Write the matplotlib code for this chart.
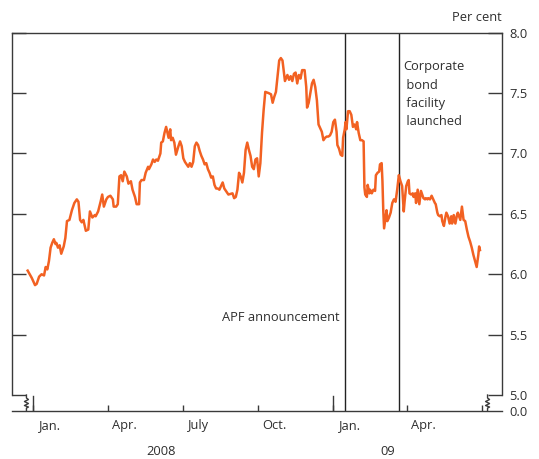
import numpy as np
import pandas as pd
import matplotlib
matplotlib.use('Agg')
import matplotlib.pyplot as plt
import matplotlib.dates as mdates

plt.rcParams['font.family'] = ['Open Sans', 'DejaVu Sans']

# ---------------- data ----------------
BASE = '2008-01-01'
day_offsets = [
    -7, -2, 2, 4, 7, 10, 13, 15, 17, 19, 21, 23, 25, 27, 28, 30, 32, 34, 37, 39,
    41, 44, 47, 50, 53, 55, 57, 59, 61, 64, 67, 69, 72, 75, 76, 79, 82, 84, 86, 89,
    91, 94, 97, 98, 101, 103, 105, 107, 109, 111, 114, 116, 119, 121, 124, 126, 129, 130, 132, 135,
    137, 140, 141, 144, 146, 148, 150, 152, 155, 156, 158, 160, 162, 163, 165, 167, 168, 170, 172, 174,
    177, 179, 181, 183, 185, 187, 189, 191, 193, 195, 197, 199, 201, 203, 205, 207, 209, 211, 213, 215,
    217, 219, 221, 223, 225, 227, 229, 231, 233, 235, 238, 243, 245, 247, 249, 251, 253, 255, 257, 259,
    261, 263, 265, 267, 269, 271, 273, 275, 277, 279, 281, 283, 287, 290, 292, 294, 296, 298, 300, 302,
    304, 306, 307, 310, 312, 314, 316, 318, 320, 322, 324, 326, 328, 331, 333, 334, 336, 338, 340, 342,
    344, 346, 348, 350, 352, 354, 356, 358, 360, 362, 364, 366, 368, 370, 371, 373, 375, 377, 378, 380,
    381, 382, 384, 386, 388, 390, 392, 394, 395, 397, 399, 401, 403, 404, 405, 407, 408, 410, 411, 413,
    415, 417, 418, 420, 422, 423, 425, 426, 427, 428, 430, 431, 432, 434, 436, 438, 440, 442, 444, 446,
    448, 450, 452, 453, 455, 457, 458, 459, 461, 463, 464, 466, 467, 469, 471, 473, 474, 476, 478, 479,
    481, 482, 484, 486, 488, 490, 491, 493, 494, 496, 498, 499, 501, 503, 504, 506, 508, 510, 511, 513,
    515, 517, 518, 521, 523, 525, 527, 529, 531, 533, 535, 537, 539, 541, 543, 544, 545,
]
yields = [
    6.03, 5.97, 5.91, 5.92, 5.98, 6.00, 5.99, 6.06, 6.04, 6.11, 6.22, 6.26, 6.29, 6.25, 6.26, 6.22, 6.24, 6.17, 6.23, 6.30,
    6.44, 6.45, 6.53, 6.59, 6.62, 6.60, 6.45, 6.43, 6.45, 6.36, 6.37, 6.52, 6.47, 6.49, 6.48, 6.52, 6.60, 6.66, 6.56, 6.62,
    6.64, 6.65, 6.62, 6.56, 6.56, 6.58, 6.81, 6.82, 6.77, 6.85, 6.81, 6.75, 6.77, 6.70, 6.64, 6.58, 6.58, 6.76, 6.78, 6.78,
    6.84, 6.89, 6.87, 6.91, 6.95, 6.93, 6.95, 6.94, 7.00, 7.09, 7.10, 7.17, 7.22, 7.19, 7.13, 7.20, 7.11, 7.13, 7.09, 6.99,
    7.06, 7.10, 7.06, 6.96, 6.93, 6.91, 6.89, 6.92, 6.89, 6.93, 7.06, 7.09, 7.07, 7.02, 6.98, 6.95, 6.91, 6.92, 6.87, 6.84,
    6.80, 6.81, 6.74, 6.71, 6.71, 6.70, 6.73, 6.76, 6.71, 6.69, 6.66, 6.67, 6.63, 6.64, 6.70, 6.84, 6.81, 6.76, 6.84, 7.03,
    7.09, 7.03, 6.98, 6.89, 6.87, 6.95, 6.96, 6.81, 6.92, 7.17, 7.36, 7.51, 7.50, 7.49, 7.42, 7.47, 7.51, 7.64, 7.77, 7.79,
    7.77, 7.66, 7.60, 7.65, 7.61, 7.64, 7.60, 7.66, 7.67, 7.58, 7.65, 7.62, 7.69, 7.69, 7.55, 7.38, 7.42, 7.50, 7.58, 7.61,
    7.55, 7.44, 7.24, 7.21, 7.18, 7.11, 7.13, 7.14, 7.14, 7.15, 7.18, 7.26, 7.28, 7.18, 7.07, 7.04, 6.99, 6.98, 7.13, 7.20,
    7.26, 7.20, 7.35, 7.35, 7.32, 7.22, 7.24, 7.20, 7.26, 7.17, 7.11, 7.11, 7.10, 6.72, 6.66, 6.64, 6.74, 6.67, 6.70, 6.67,
    6.70, 6.69, 6.82, 6.84, 6.85, 6.91, 6.92, 6.77, 6.53, 6.38, 6.48, 6.53, 6.44, 6.47, 6.51, 6.59, 6.62, 6.60, 6.70, 6.82,
    6.77, 6.73, 6.52, 6.60, 6.73, 6.77, 6.78, 6.67, 6.66, 6.67, 6.64, 6.67, 6.59, 6.70, 6.58, 6.69, 6.67, 6.63, 6.62, 6.63,
    6.62, 6.63, 6.62, 6.65, 6.62, 6.59, 6.58, 6.51, 6.49, 6.48, 6.49, 6.44, 6.40, 6.48, 6.51, 6.48, 6.42, 6.48, 6.42, 6.49,
    6.42, 6.49, 6.51, 6.45, 6.56, 6.45, 6.44, 6.37, 6.31, 6.27, 6.22, 6.16, 6.11, 6.06, 6.16, 6.23, 6.20,
]

event_dates = ['2009-01-15', '2009-03-22']
event_labels = ['APF announcement', 'Corporate\n bond\n facility\n launched']

quarter_ticks = ['2008-01-01', '2008-04-01', '2008-07-01', '2008-10-01',
                 '2009-01-01', '2009-04-01', '2009-07-01']
year_ticks = ['2008-01-01', '2009-01-01']
month_label_dates = ['2008-01-21', '2008-04-21', '2008-07-21', '2008-10-21',
                     '2009-01-21', '2009-04-21']
month_labels = ['Jan.', 'Apr.', 'July', 'Oct.', 'Jan.', 'Apr.']
year_label_dates = ['2008-06-05', '2009-03-09']
year_labels = ['2008', '09']

ytick_vals = [5.0, 5.5, 6.0, 6.5, 7.0, 7.5, 8.0]
ytick_labels = ['5.0', '5.5', '6.0', '6.5', '7.0', '7.5', '8.0']
y_break_value = 4.871
y_break_label = '0.0'

# ---------------- style ----------------
LINE_COLOR = '#F26122'
AX_COLOR = '#3a3a3a'
TXT_COLOR = '#2e2e2e'
FS = 9.3

W, H = 539, 459
fig = plt.figure(figsize=(W / 100, H / 100), dpi=100)
ax_l, ax_r, ax_t, ax_b = 12, 502, 32.7, 410.6
ax = fig.add_axes([ax_l / W, 1 - ax_b / H, (ax_r - ax_l) / W, (ax_b - ax_t) / H])
ax_wpx, ax_hpx = ax_r - ax_l, ax_b - ax_t

base = pd.Timestamp(BASE)
dates = base + pd.to_timedelta(day_offsets, unit='D')
ax.plot(dates, yields, color=LINE_COLOR, lw=1.8, solid_joinstyle='round', zorder=3)

ax.set_xlim(base - pd.Timedelta(days=26.1), base + pd.Timedelta(days=571.9))
ax.set_ylim(y_break_value, 8.0)

for d in event_dates:
    ax.axvline(pd.Timestamp(d), color='#222222', lw=1.0, zorder=2)

ax.annotate(event_labels[0], xy=(pd.Timestamp(event_dates[0]), 5.645), xytext=(-4, 0),
            textcoords='offset points', ha='right', va='center', fontsize=FS, color=TXT_COLOR)
ax.annotate(event_labels[1], xy=(pd.Timestamp(event_dates[1]), 8.0), xytext=(3, -20),
            textcoords='offset points', ha='left', va='top', fontsize=FS, color=TXT_COLOR,
            linespacing=1.53)

# spines
for s in ['left', 'right', 'top', 'bottom']:
    ax.spines[s].set_color(AX_COLOR)
    ax.spines[s].set_linewidth(1.0)
ax.spines['left'].set_bounds(5.0, 8.0)
ax.spines['right'].set_bounds(5.0, 8.0)

# y ticks
ax.set_yticks(ytick_vals)
ax.set_yticklabels(ytick_labels)
ax.set_yticks([y_break_value], minor=True)
ax.set_yticklabels([y_break_label], minor=True)
ax.tick_params(axis='y', which='both', left=True, right=True, labelleft=False, labelright=True,
               direction='in', colors=AX_COLOR, labelcolor=TXT_COLOR, labelsize=FS, pad=5)
ax.tick_params(axis='y', which='major', length=10.4, width=1.0)
ax.tick_params(axis='y', which='minor', length=0)

# x ticks
ax.set_xticks(pd.to_datetime(quarter_ticks))
ax.set_xticklabels([''] * len(quarter_ticks))
ax.set_xticks(pd.to_datetime(month_label_dates), minor=True)
ax.set_xticklabels(month_labels, minor=True)
ax.tick_params(axis='x', which='major', direction='in', length=4.3, width=1.0, colors=AX_COLOR)
ax.tick_params(axis='x', which='minor', length=0, labelsize=FS, labelcolor=TXT_COLOR, pad=6)
for d in year_ticks:
    ax.axvline(pd.Timestamp(d), ymin=0, ymax=15 / ax_hpx, color=AX_COLOR, lw=1.0)

xtr = ax.get_xaxis_transform()
for d, lab in zip(year_label_dates, year_labels):
    ax.text(pd.Timestamp(d), -41 / ax_hpx, lab, transform=xtr, ha='center', va='center',
            fontsize=FS, color=TXT_COLOR)

ax.text(1.0, 1 + 15 / ax_hpx, 'Per cent', transform=ax.transAxes, ha='right', va='center',
        fontsize=FS, color=TXT_COLOR)

# axis break markers (zigzag from the 5.0 tick end down to the base line)
y5 = (5.0 - y_break_value) / (8.0 - y_break_value) * ax_hpx  # px above bottom
zz_dx = [0, 0, 2, -2, 2, -2, 2, 0, 0]
zz_dy = [0, 3, 4.5, 6.5, 8.5, 10.5, 12, 13, y5]
tick_px = 10.4 * 100 / 72
for x0 in [tick_px, ax_wpx - tick_px]:
    xs = [(x0 + dx) / ax_wpx for dx in zz_dx]
    ys = [(y5 - dy) / ax_hpx for dy in zz_dy]
    ax.plot(xs, ys, transform=ax.transAxes, color=AX_COLOR, lw=1.0, clip_on=False)

fig.savefig('out.png', dpi=100)
